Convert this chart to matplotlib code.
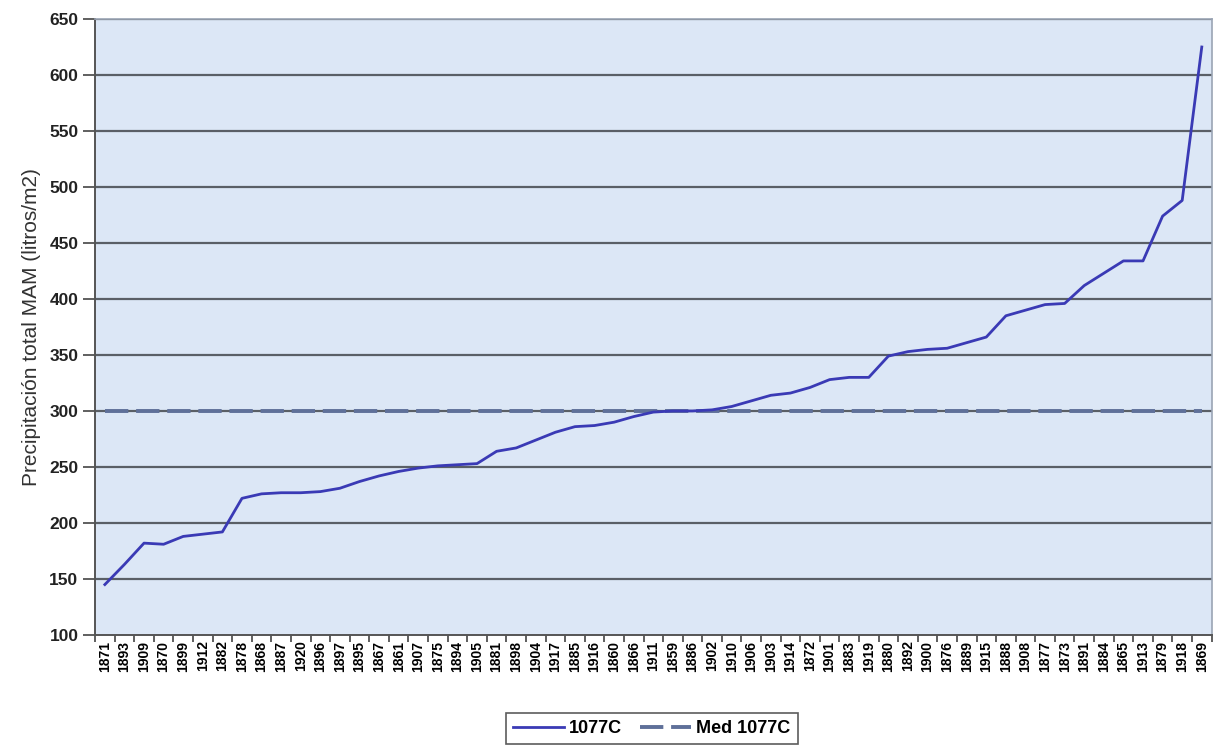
import numpy as np
from matplotlib import pyplot as plt

plt.rcParams['font.family'] = ['Liberation Sans', 'DejaVu Sans']

years = ['1871', '1893', '1909', '1870', '1899', '1912', '1882', '1878', '1868', '1887',
         '1920', '1896', '1897', '1895', '1867', '1861', '1907', '1875', '1894', '1905',
         '1881', '1898', '1904', '1917', '1885', '1916', '1860', '1866', '1911', '1859',
         '1886', '1902', '1910', '1906', '1903', '1914', '1872', '1901', '1883', '1919',
         '1880', '1892', '1900', '1876', '1889', '1915', '1888', '1908', '1877', '1873',
         '1891', '1884', '1865', '1913', '1879', '1918', '1869']

precip = [145, 163, 182, 181, 188, 190, 192, 222, 226, 227,
          227, 228, 231, 237, 242, 246, 249, 251, 252, 253,
          264, 267, 274, 281, 286, 287, 290, 295, 299, 300,
          300, 301, 304, 309, 314, 316, 321, 328, 330, 330,
          349, 353, 355, 356, 361, 366, 385, 390, 395, 396,
          412, 423, 434, 434, 474, 488, 625]

mediana = 300

x = np.arange(len(years))

fig = plt.figure(figsize=(12.14, 7.45), dpi=100)
ax = fig.add_axes([0.0783, 0.1477, 0.9197, 0.8268])
ax.set_facecolor('#dce7f6')

for yv in range(150, 651, 50):
    ax.axhline(yv, color='#5a5f66', linewidth=1.6, zorder=1)

ax.plot(x, [mediana] * len(x), color='#5f7099', linewidth=2.8,
        linestyle=(0, (6, 2)), label='Med 1077C', zorder=2)
ax.plot(x, precip, color='#3a3ab5', linewidth=2.0, label='1077C', zorder=3)

ax.set_xlim(-0.5, len(years) - 0.5)
ax.set_ylim(100, 650)
ax.set_yticks(range(100, 651, 50))
ax.set_xticks(x)
ax.set_xticklabels(years, rotation=90, fontsize=10, fontweight='bold')
ax.set_xticks(np.arange(-0.5, len(years), 1), minor=True)
ax.tick_params(axis='x', which='major', length=0, pad=4)
ax.tick_params(axis='x', which='minor', length=5, color='#444444', width=1.2)
ax.tick_params(axis='y', length=9, width=1.2, color='#444444', labelsize=12.5, pad=3)
for lbl in ax.get_yticklabels():
    lbl.set_fontweight('bold')
    lbl.set_color('#222222')

ax.set_ylabel('Precipitación total MAM (litros/m2)', fontsize=15, color='#333333', labelpad=6)

for side in ['left', 'bottom']:
    ax.spines[side].set_color('#555555')
    ax.spines[side].set_linewidth(1.4)
for side in ['top', 'right']:
    ax.spines[side].set_color('#9aa4b4')
    ax.spines[side].set_linewidth(1.2)

h, l = ax.get_legend_handles_labels()
leg = fig.legend(h[::-1], l[::-1], loc='upper center', bbox_to_anchor=(0.537, 0.043),
                 ncol=2, frameon=True, fancybox=False, edgecolor='#333333',
                 prop={'weight': 'bold', 'size': 13}, handlelength=2.8, columnspacing=1.0,
                 borderpad=0.4, borderaxespad=0, handletextpad=0.3)
leg.get_frame().set_linewidth(1.2)

fig.savefig('out.png', dpi=100)
